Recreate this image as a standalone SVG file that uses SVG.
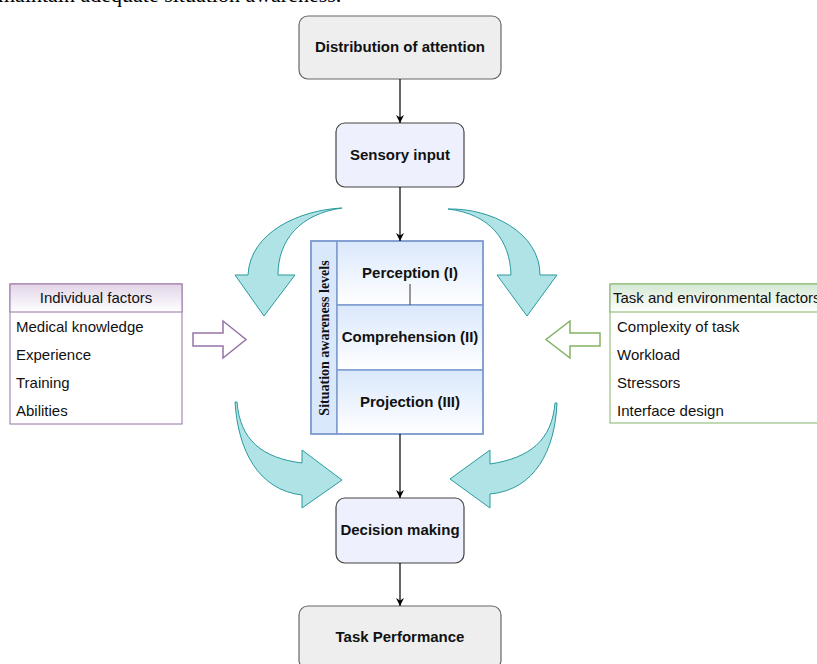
<svg xmlns="http://www.w3.org/2000/svg" width="817" height="664" viewBox="0 0 817 664">
<defs>
<linearGradient id="gBlue" x1="0" y1="0" x2="0" y2="1"><stop offset="0" stop-color="#dae8fc"/><stop offset="1" stop-color="#ffffff"/></linearGradient>
<linearGradient id="gPurple" x1="0" y1="0" x2="0" y2="1"><stop offset="0" stop-color="#e1d5e7"/><stop offset="1" stop-color="#ffffff"/></linearGradient>
<linearGradient id="gGreen" x1="0" y1="0" x2="0" y2="1"><stop offset="0" stop-color="#d5e8d4"/><stop offset="1" stop-color="#ffffff"/></linearGradient>
<marker id="arr" viewBox="0 0 10 10" refX="10" refY="5" markerWidth="8" markerHeight="8" markerUnits="userSpaceOnUse" orient="auto"><path d="M0 0 L10 5 L0 10 L3 5 Z" fill="#000"/></marker>
</defs>
<style>
.t{font-family:"Liberation Sans",Arial,sans-serif;font-size:15px;fill:#111}
.b{font-weight:bold;text-anchor:middle}
.grey{fill:#eeeeee;stroke:#666666;stroke-width:1.2}
.lav{fill:#eef1fd;stroke:#444444;stroke-width:1.2}
.conn{stroke:#000;stroke-width:1.2;fill:none;marker-end:url(#arr)}
.curve{fill:#b0e3e6;stroke:#2a9a9f;stroke-width:1}
.sa{stroke:#7f9ccf;stroke-width:1.5}
</style>
<text x="-2" y="2" font-family="Liberation Serif,serif" font-size="22" fill="#000">maintain adequate situation awareness.</text>

<g id="distribution"><rect class="grey" x="299" y="16" width="202" height="63" rx="9"/><text class="t b" x="400" y="52">Distribution of attention</text></g>
<g id="sensory"><rect class="lav" x="336" y="123" width="128" height="64" rx="9"/><text class="t b" x="400" y="160">Sensory input</text></g>

<g id="sa-levels">
<rect x="311" y="241" width="26" height="193" fill="#dae8fc" class="sa"/>
<rect x="337" y="241" width="146" height="64" fill="url(#gBlue)" class="sa"/>
<rect x="337" y="305" width="146" height="65" fill="url(#gBlue)" class="sa"/>
<rect x="337" y="370" width="146" height="64" fill="url(#gBlue)" class="sa"/>
<rect x="311" y="241" width="172" height="193" fill="none" class="sa"/>
<line x1="410" y1="284" x2="410" y2="305" stroke="#555" stroke-width="1.2"/>
<text class="t b" x="410" y="278">Perception (I)</text>
<text class="t b" x="410" y="342">Comprehension (II)</text>
<text class="t b" x="410" y="407">Projection (III)</text>
<text transform="translate(329,338) rotate(-90)" text-anchor="middle" font-family="Liberation Serif,serif" font-weight="bold" font-size="14" fill="#111">Situation awareness levels</text>
</g>

<g id="decision"><rect class="lav" x="336" y="498" width="128" height="65" rx="9"/><text class="t b" x="400" y="535">Decision making</text></g>
<g id="task-performance"><rect class="grey" x="299" y="606" width="202" height="63" rx="9"/><text class="t b" x="400" y="642">Task Performance</text></g>

<g id="individual-factors">
<rect x="10" y="284" width="172" height="140" fill="#fff" stroke="#9673a6" stroke-width="1"/>
<rect x="10" y="284" width="172" height="28" fill="url(#gPurple)" stroke="#9673a6" stroke-width="1"/>
<text class="t" x="96" y="303" text-anchor="middle">Individual factors</text>
<text class="t" x="16" y="332">Medical knowledge</text>
<text class="t" x="16" y="360">Experience</text>
<text class="t" x="16" y="388">Training</text>
<text class="t" x="16" y="416">Abilities</text>
</g>

<g id="task-env-factors">
<rect x="610" y="284" width="220" height="139" fill="#fff" stroke="#82b366" stroke-width="1"/>
<rect x="610" y="284" width="220" height="28" fill="url(#gGreen)" stroke="#82b366" stroke-width="1"/>
<text class="t" x="613" y="303">Task and environmental factors</text>
<text class="t" x="617" y="332">Complexity of task</text>
<text class="t" x="617" y="360">Workload</text>
<text class="t" x="617" y="388">Stressors</text>
<text class="t" x="617" y="416">Interface design</text>
</g>

<g id="hollow-arrows">
<path d="M193 333 L223 333 L223 321 L246 339.5 L223 358 L223 346 L193 346 Z" fill="#fff" stroke="#9673a6" stroke-width="1.5"/>
<path d="M600 333 L570 333 L570 321 L546 339.5 L570 358 L570 346 L600 346 Z" fill="#fff" stroke="#82b366" stroke-width="1.5"/>
</g>

<g id="curved-arrows">
<path class="curve" d="M342 208 C300 210 250 232 248 275 L235 275 L264 316 L295 275 L278 275 C278 240 300 214 342 208 Z"/>
<path class="curve" d="M448 209 C490 208 540 232 540 275 L557 275 L527 316 L497 275 L511 275 C510 240 490 214 448 209 Z"/>
<path class="curve" d="M235 402 C238 450 258 490 302 495 L302 508 L342 480 L302 450 L302 463 C262 458 240 440 237 402 Z"/>
<path class="curve" d="M557 403 C555 450 535 490 490 494 L490 508 L450 479 L490 450 L490 464 C530 458 552 440 555 403 Z"/>
</g>

<g id="connectors">
<line class="conn" x1="400" y1="79" x2="400" y2="123"/>
<line class="conn" x1="400" y1="187" x2="400" y2="241"/>
<line class="conn" x1="400" y1="434" x2="400" y2="498"/>
<line class="conn" x1="400" y1="563" x2="400" y2="606"/>
</g>
</svg>
